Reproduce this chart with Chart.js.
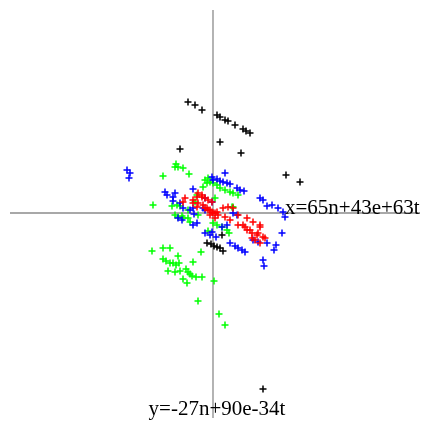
<!DOCTYPE html>
<html>
<head>
<meta charset="utf-8">
<script src="https://cdn.jsdelivr.net/npm/chart.js@4/dist/chart.umd.min.js"></script>
<style>
  body { margin: 0; background: #fff; }
  canvas { display: block; }
</style>
</head>
<body>
<canvas id="plot" width="423" height="422"></canvas>
<script>
// axis titles
const xTitle = 'x=65n+43e+63t';
const yTitle = 'y=-27n+90e-34t';

// points, [x, y] with the origin at the axis crossing
const blackPts = [
  [-25, 111], [-18, 108], [-11, 103], [4, 98], [7, 96], [12, 93], [15, 92],
  [22, 88], [30, 84], [33, 82], [37, 80], [7, 71], [-33, 64], [28, 60],
  [73, 38], [87, 31], [-6, -30], [-2, -31], [1, -33], [4, -34], [7, -35],
  [10, -38], [9, -22], [50, -176]
];
const redPts = [
  [-15, 20], [-11, 18], [-20, 13], [-15, 10], [-10, 8], [-6, 5], [-3, 3],
  [0, 0], [4, 1], [-11, 16], [-8, 15], [-5, 13], [-1, 11], [-8, 5], [-5, 3],
  [-1, 1], [2, 0], [5, -2], [-3, -2], [2, -5], [10, 5], [15, 6], [20, 5],
  [12, -4], [17, -7], [25, -2], [34, -5], [40, -9], [25, -12], [30, -12],
  [37, -17], [47, -12], [47, -14], [34, -17], [39, -20], [44, -22], [50, -24],
  [52, -25], [42, -27], [47, -30], [39, -25], [32, -14], [45, -20], [-28, 15],
  [-30, 11], [-16, 16], [-20, 10], [-16, 6]
];
const bluePts = [
  [-86, 43], [-83, 40], [-84, 35], [12, 40], [-1, 36], [0, 33], [4, 34],
  [7, 32], [10, 31], [14, 30], [17, 29], [24, 25], [27, 23], [31, 22],
  [47, 15], [50, 13], [54, 7], [59, 8], [65, 5], [70, 1], [72, -4],
  [-48, 21], [-46, 18], [-40, 16], [-38, 20], [-40, 12], [-33, 10], [-20, 24],
  [-8, 15], [-1, 11], [-30, 5], [-23, 3], [-20, 5], [-19, -1], [-35, -5],
  [-31, -7], [-20, -12], [-16, -10], [-8, -20], [-3, -22], [-1, -19], [3, -24],
  [9, -14], [14, -12], [17, -30], [22, -33], [25, -35], [29, -37], [32, -39],
  [40, -27], [45, -29], [54, -30], [61, -37], [63, -32], [69, -20], [50, -47],
  [51, -53], [-10, 5], [-8, 3], [20, 0], [24, -2]
];
const greenPts = [
  [-37, 49], [-38, 46], [-35, 46], [-30, 45], [-50, 37], [-24, 39], [-60, 8],
  [-41, 7], [-36, 8], [-33, 7], [-8, 33], [-5, 35], [-10, 26], [-6, 30],
  [-3, 31], [0, 30], [4, 28], [7, 25], [12, 23], [17, 21], [20, 20], [25, 18],
  [-16, 18], [-18, 11], [2, 15], [19, 6], [-25, 3], [-31, -3], [-38, -2],
  [-35, -4], [-30, -5], [-25, -5], [-23, -9], [-15, -2], [-61, -38], [-50, -35],
  [-43, -35], [-50, -46], [-47, -48], [-43, -50], [-40, -50], [-37, -52],
  [-34, -50], [-35, -43], [-20, -49], [-12, -39], [-45, -58], [-38, -59],
  [-33, -58], [-27, -56], [-25, -59], [-23, -61], [-21, -63], [-17, -64],
  [-30, -66], [-26, -70], [-11, -64], [1, -68], [-15, -88], [6, -101],
  [12, -112], [0, -10], [4, -12], [9, -14], [14, -17], [16, -20], [-5, -18],
  [20, 6]
];

function toXY(pts) {
  return pts.map(p => ({ x: p[0], y: p[1] }));
}

function crossSet(pts, color) {
  return {
    data: toXY(pts),
    pointStyle: 'cross',
    pointRadius: 3.5,
    pointBorderWidth: 1.5,
    borderColor: color,
    backgroundColor: color,
    showLine: false
  };
}

// draws the two axis lines through the origin and their labels
const crossAxes = {
  id: 'crossAxes',
  beforeDatasetsDraw(chart) {
    const ctx = chart.ctx;
    const xs = chart.scales.x, ys = chart.scales.y;
    const x0 = xs.getPixelForValue(0), y0 = ys.getPixelForValue(0);
    ctx.save();
    ctx.strokeStyle = '#8c8c8c';
    ctx.lineWidth = 1.3;
    ctx.beginPath();
    ctx.moveTo(xs.getPixelForValue(-203), y0);
    ctx.lineTo(xs.getPixelForValue(207), y0);
    ctx.moveTo(x0, ys.getPixelForValue(203));
    ctx.lineTo(x0, ys.getPixelForValue(-205));
    ctx.stroke();
    ctx.restore();
  },
  afterDatasetsDraw(chart) {
    const ctx = chart.ctx;
    const xs = chart.scales.x, ys = chart.scales.y;
    ctx.save();
    ctx.fillStyle = '#000';
    ctx.font = '21px "Liberation Serif", "DejaVu Serif", serif';
    ctx.textBaseline = 'alphabetic';
    ctx.textAlign = 'left';
    ctx.fillText(xTitle, xs.getPixelForValue(72), ys.getPixelForValue(-1));
    ctx.textAlign = 'center';
    ctx.fillText(yTitle, xs.getPixelForValue(4), ys.getPixelForValue(-202));
    ctx.restore();
  }
};

new Chart(document.getElementById('plot'), {
  type: 'scatter',
  data: {
    datasets: [
      crossSet(blackPts, '#000000'),
      crossSet(redPts, '#ff0000'),
      crossSet(bluePts, '#0000ff'),
      crossSet(greenPts, '#00ff00')
    ]
  },
  options: {
    responsive: false,
    animation: false,
    devicePixelRatio: 1,
    layout: { padding: 0, autoPadding: false },
    events: [],
    plugins: { legend: { display: false }, tooltip: { enabled: false } },
    scales: {
      x: { type: 'linear', min: -213, max: 210, display: false },
      y: { type: 'linear', min: -209, max: 213, display: false }
    }
  },
  plugins: [crossAxes]
});
</script>
</body>
</html>
